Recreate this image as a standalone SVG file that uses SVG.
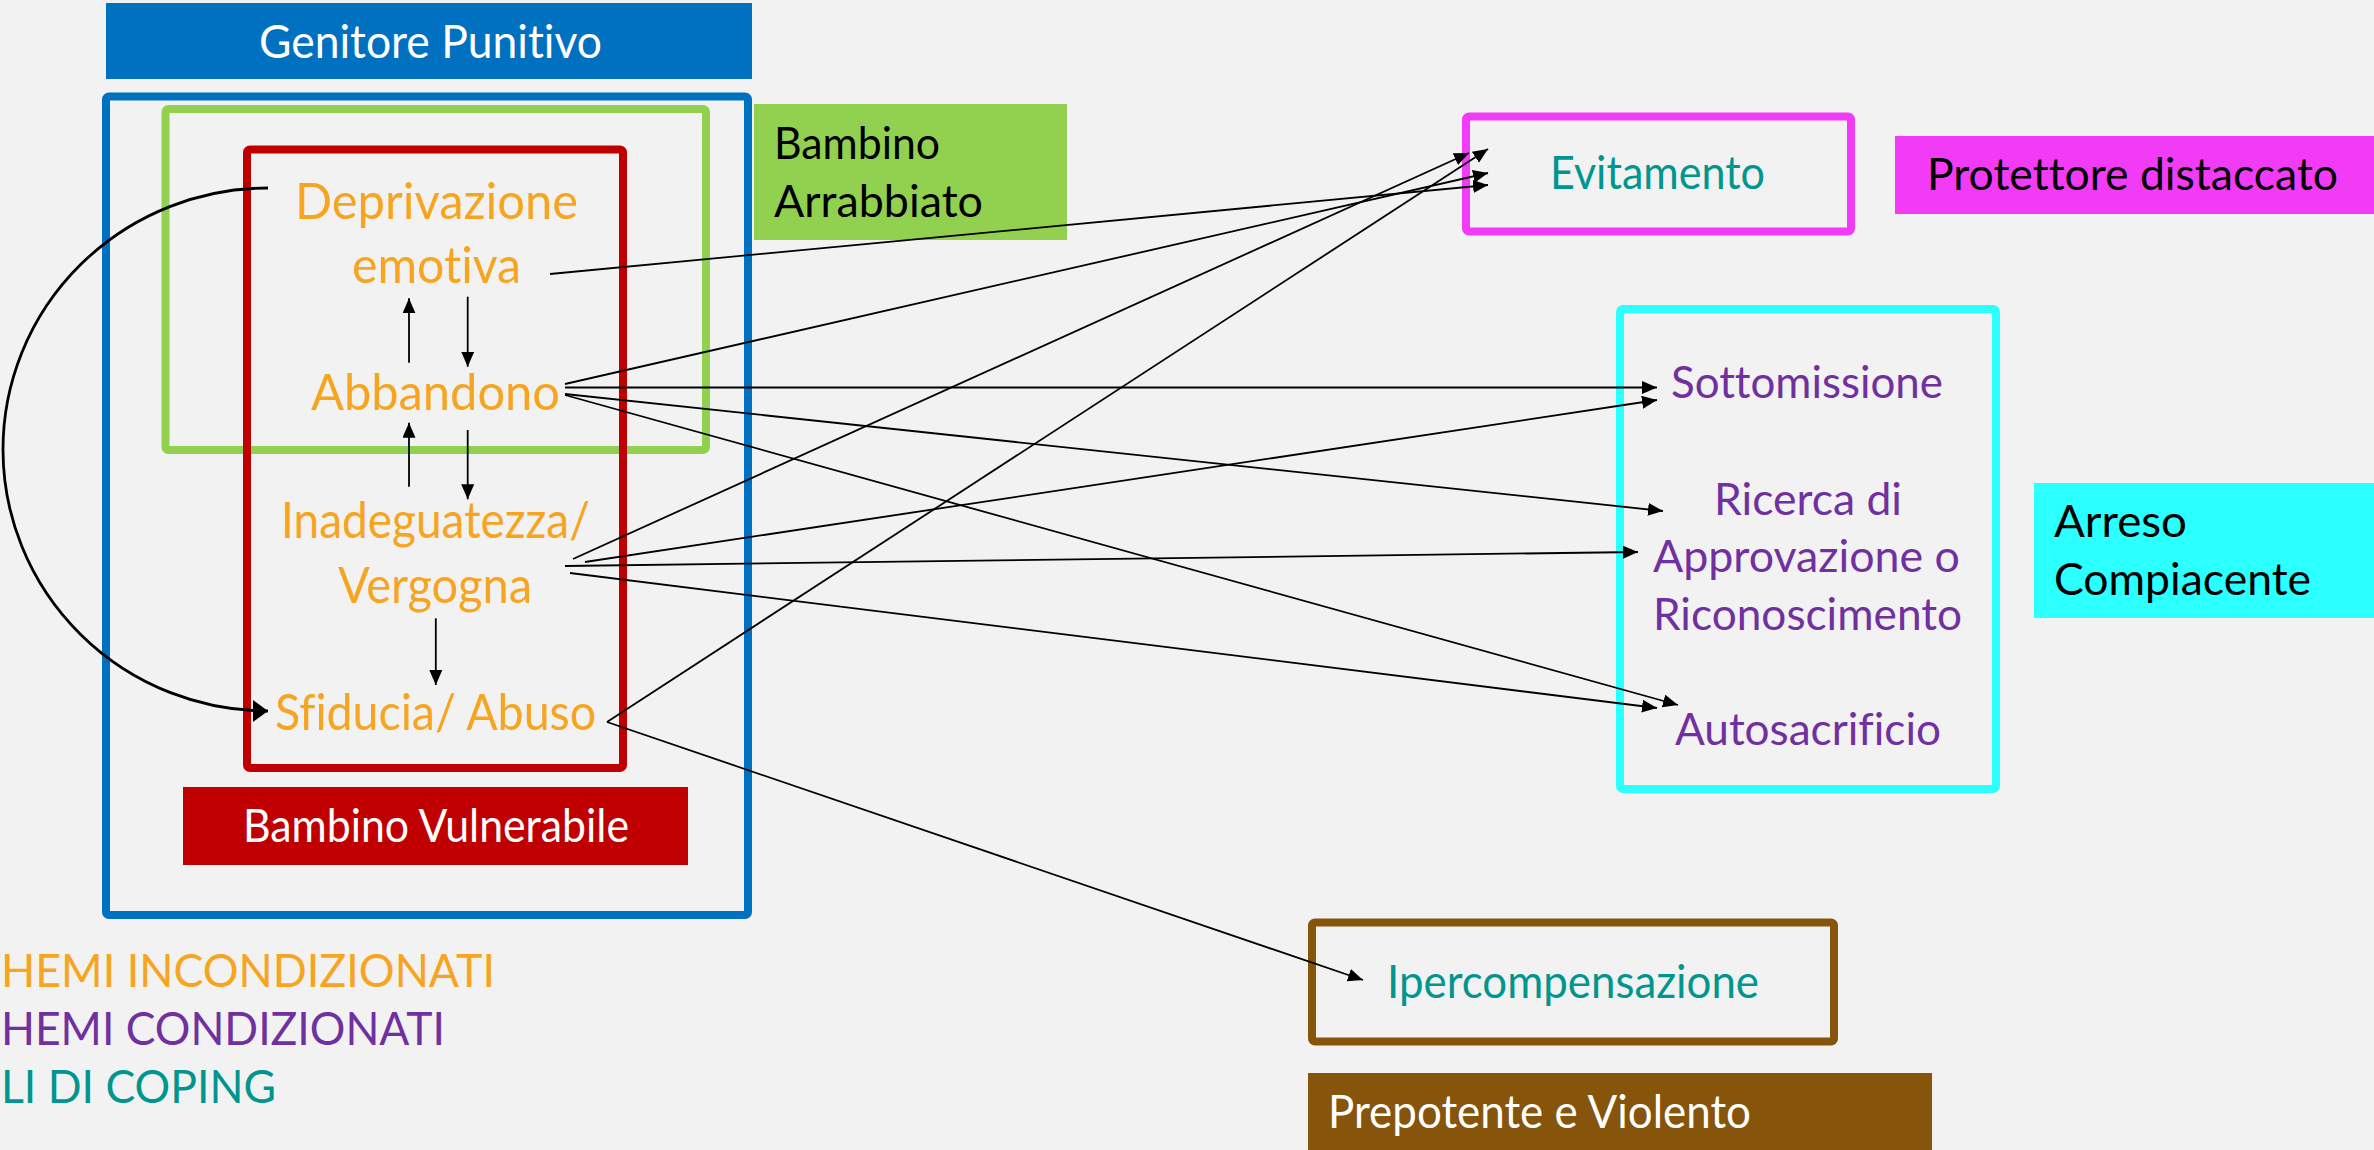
<svg xmlns="http://www.w3.org/2000/svg" width="2374" height="1150" viewBox="0 0 2374 1150">
<defs>
<style>
text { font-family: Lato, "Open Sans", "DejaVu Sans", sans-serif; font-variant-ligatures: none; }
.sch { fill: #F7A520; font-size: 50px; }
.cond { fill: #7030A0; font-size: 45px; }
.cop { fill: #00968F; font-size: 46px; }
.wt { fill: #FFFFFF; font-size: 46px; }
.bk { fill: #000000; font-size: 45px; }
.leg { font-size: 47px; }
.conn { stroke: #000; stroke-width: 1.8; fill: none; marker-end: url(#ah); }
.curve { stroke: #000; stroke-width: 2.8; fill: none; marker-end: url(#ahb); }
.frame { fill: none; stroke-width: 8; }
</style>
<marker id="ah" markerUnits="userSpaceOnUse" markerWidth="16" markerHeight="14" refX="15" refY="6.5" orient="auto">
<path d="M0,0 L15,6.5 L0,13 z" fill="#000"/>
</marker>
<marker id="ahb" markerUnits="userSpaceOnUse" markerWidth="16" markerHeight="23" refX="15" refY="11" orient="auto">
<path d="M0,0 L15,11 L0,22 z" fill="#000"/>
</marker>
</defs>
<rect x="0" y="0" width="2374" height="1150" fill="#F2F2F2"/>

<g id="genitore-punitivo">
<rect x="106" y="3" width="646" height="76" fill="#0070C0"/>
<text class="wt" x="259" y="58" textLength="343" lengthAdjust="spacingAndGlyphs">Genitore Punitivo</text>
<rect class="frame" x="106" y="96.5" width="642" height="818.5" rx="3" stroke="#0070C0" stroke-width="7.5"/>
</g>

<g id="bambino-arrabbiato">
<rect class="frame" x="165.5" y="109" width="540.5" height="341" rx="3" stroke="#92D050" stroke-width="7.5"/>
<rect x="754" y="104" width="313" height="136" fill="#92D050"/>
<text class="bk" x="774" y="159" textLength="166" lengthAdjust="spacingAndGlyphs">Bambino</text>
<text class="bk" x="774" y="217" textLength="209" lengthAdjust="spacingAndGlyphs">Arrabbiato</text>
</g>

<g id="bambino-vulnerabile">
<rect class="frame" x="247" y="149.5" width="376" height="618.5" rx="3" stroke="#C00000"/>
<rect x="183" y="787" width="505" height="78" fill="#C00000"/>
<text class="wt" x="243" y="842" textLength="386" lengthAdjust="spacingAndGlyphs">Bambino Vulnerabile</text>
</g>

<g id="deprivazione-emotiva">
<text class="sch" x="295" y="219" textLength="283" lengthAdjust="spacingAndGlyphs">Deprivazione</text>
<text class="sch" x="352" y="283" textLength="169" lengthAdjust="spacingAndGlyphs">emotiva</text>
</g>
<g id="abbandono">
<text class="sch" x="311" y="410" textLength="249" lengthAdjust="spacingAndGlyphs">Abbandono</text>
</g>
<g id="inadeguatezza-vergogna">
<text class="sch" x="281" y="538" textLength="309" lengthAdjust="spacingAndGlyphs">Inadeguatezza/</text>
<text class="sch" x="338" y="603" textLength="194" lengthAdjust="spacingAndGlyphs">Vergogna</text>
</g>
<g id="sfiducia-abuso">
<text class="sch" x="275" y="730" textLength="321" lengthAdjust="spacingAndGlyphs">Sfiducia/ Abuso</text>
</g>

<g id="evitamento">
<rect class="frame" x="1466" y="116.5" width="385" height="115" rx="3" stroke="#F23BF7" stroke-width="7.5"/>
<text class="cop" x="1550" y="189" textLength="215" lengthAdjust="spacingAndGlyphs">Evitamento</text>
</g>
<g id="protettore-distaccato">
<rect x="1895" y="136" width="479" height="78" fill="#F23BF7"/>
<text class="bk" x="1927" y="190" textLength="411" lengthAdjust="spacingAndGlyphs">Protettore distaccato</text>
</g>

<g id="arreso-compiacente-box">
<rect class="frame" x="1620" y="309" width="376" height="480" rx="3" stroke="#2BFFFF"/>
</g>
<g id="sottomissione">
<text class="cond" x="1671" y="398" textLength="272" lengthAdjust="spacingAndGlyphs">Sottomissione</text>
</g>
<g id="ricerca-approvazione">
<text class="cond" x="1714" y="515" textLength="188" lengthAdjust="spacingAndGlyphs">Ricerca di</text>
<text class="cond" x="1653" y="572" textLength="307" lengthAdjust="spacingAndGlyphs">Approvazione o</text>
<text class="cond" x="1653" y="630" textLength="309" lengthAdjust="spacingAndGlyphs">Riconoscimento</text>
</g>
<g id="autosacrificio">
<text class="cond" x="1675" y="745" textLength="266" lengthAdjust="spacingAndGlyphs">Autosacrificio</text>
</g>
<g id="arreso-compiacente">
<rect x="2034" y="483" width="340" height="135" fill="#2BFFFF"/>
<text class="bk" x="2054" y="537" textLength="133" lengthAdjust="spacingAndGlyphs">Arreso</text>
<text class="bk" x="2054" y="595" textLength="257" lengthAdjust="spacingAndGlyphs">Compiacente</text>
</g>

<g id="ipercompensazione">
<rect class="frame" x="1312" y="922.5" width="522" height="119" rx="3" stroke="#86540A"/>
<text class="cop" x="1387" y="998" textLength="372" lengthAdjust="spacingAndGlyphs">Ipercompensazione</text>
</g>
<g id="prepotente-violento">
<rect x="1308" y="1073" width="624" height="77" fill="#86540A"/>
<text class="wt" x="1328" y="1128" font-size="44" textLength="423" lengthAdjust="spacingAndGlyphs">Prepotente e Violento</text>
</g>

<g id="legenda">
<text class="leg" fill="#F7A520" x="1" y="987" textLength="494" lengthAdjust="spacingAndGlyphs">HEMI INCONDIZIONATI</text>
<text class="leg" fill="#7030A0" x="1" y="1045" textLength="444" lengthAdjust="spacingAndGlyphs">HEMI CONDIZIONATI</text>
<text class="leg" fill="#00968F" x="1" y="1103" textLength="275" lengthAdjust="spacingAndGlyphs">LI DI COPING</text>
</g>

<g id="connectors">
<line class="conn" x1="409" y1="362.7" x2="409" y2="298.3"/>
<line class="conn" x1="467.7" y1="296.7" x2="467.7" y2="366.7"/>
<line class="conn" x1="409" y1="486.7" x2="409" y2="422.7"/>
<line class="conn" x1="467.7" y1="430" x2="467.7" y2="499.3"/>
<line class="conn" x1="435.8" y1="618.3" x2="435.8" y2="685"/>
<path class="curve" d="M268,188 A265,261.5 0 0 0 268,711"/>
<line class="conn" x1="550" y1="274" x2="1488" y2="185"/>
<line class="conn" x1="565" y1="384" x2="1488" y2="173"/>
<line class="conn" x1="565" y1="387.5" x2="1657" y2="387.5"/>
<line class="conn" x1="565" y1="394" x2="1663" y2="511"/>
<line class="conn" x1="565" y1="395" x2="1678" y2="705"/>
<line class="conn" x1="573" y1="559" x2="1469" y2="153"/>
<line class="conn" x1="585" y1="562" x2="1657" y2="400"/>
<line class="conn" x1="565" y1="566" x2="1638" y2="552"/>
<line class="conn" x1="570" y1="573" x2="1657" y2="708"/>
<line class="conn" x1="607" y1="722" x2="1488" y2="149"/>
<line class="conn" x1="607" y1="722" x2="1363" y2="980"/>
</g>
</svg>
